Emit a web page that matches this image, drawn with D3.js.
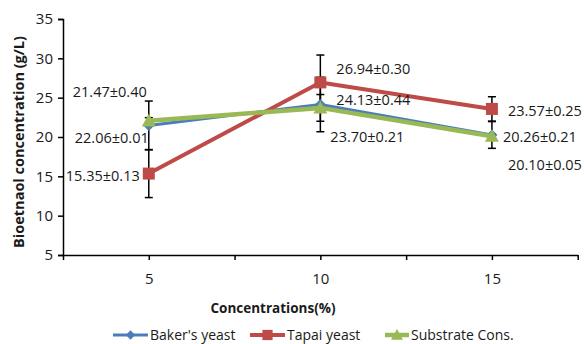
<!DOCTYPE html>
<html>
<head>
<meta charset="utf-8">
<script src="https://cdn.jsdelivr.net/npm/d3@7"></script>
<style>
  body { margin: 0; background: #fff; }
  text { font-family: "Open Sans", "Noto Sans", sans-serif; fill: #1a1a1a; }
</style>
</head>
<body>
<div id="chart"></div>
<script>
// data
var concentrations = [5, 10, 15];
var bakersYeast = [21.47, 24.13, 20.26];
var tapaiYeast = [15.35, 26.94, 23.57];
var substrateCons = [22.06, 23.70, 20.10];
var bakersErr = [3.1, 3.46, 1.7];
var tapaiErr = [3.05, 3.48, 1.55];
var substrateErr = [0.4, 1.7, 0.3];
var bakersLabels = ["21.47±0.40", "24.13±0.44", "20.26±0.21"];
var tapaiLabels = ["15.35±0.13", "26.94±0.30", "23.57±0.25"];
var substrateLabels = ["22.06±0.01", "23.70±0.21", "20.10±0.05"];
var yTicks = [5, 10, 15, 20, 25, 30, 35];
var xTickMarks = [2.5, 5, 7.5, 10, 12.5, 15, 17.5];

var W = 584, H = 344;
var svg = d3.select("#chart").append("svg").attr("width", W).attr("height", H);

var x = d3.scaleLinear().domain([2.5, 17.5]).range([63, 577.7]);
var y = d3.scaleLinear().domain([5, 35]).range([255, 19]);

// label offsets from the data point (layout only)
var series = [
  { name: "Baker's yeast", vals: bakersYeast, err: bakersErr, labels: bakersLabels,
    color: "#4a7ebb", width: 3, marker: "diamond",
    off: [[-76, -28], [16, 0], [11, 7]] },
  { name: "Tapai yeast", vals: tapaiYeast, err: tapaiErr, labels: tapaiLabels,
    color: "#be4b48", width: 4, marker: "square",
    off: [[-83, 7], [16, -8], [16, 7]] },
  { name: "Substrate Cons.", vals: substrateCons, err: substrateErr, labels: substrateLabels,
    color: "#98b954", width: 4.5, marker: "triangle",
    off: [[-74, 22], [10, 34], [16, 34]] }
];

// axes
var yAxis = d3.axisLeft(y).tickValues(yTicks).tickSize(5).tickPadding(5);
var gy = svg.append("g").attr("transform", "translate(63,0)").call(yAxis);
gy.select(".domain").attr("stroke", "#000").attr("stroke-width", 1.5);
gy.selectAll(".tick line").attr("stroke", "#000").attr("stroke-width", 1.5);
gy.selectAll(".tick text").style("font-size", "15px").attr("fill", "#1a1a1a");

var xAxis = d3.axisBottom(x).tickValues(xTickMarks).tickSize(5).tickSizeOuter(0)
  .tickFormat(function(d) { return concentrations.indexOf(d) >= 0 ? d : ""; })
  .tickPadding(13);
var gx = svg.append("g").attr("transform", "translate(0,255)").call(xAxis);
gx.select(".domain").attr("stroke", "#000").attr("stroke-width", 1.5);
gx.selectAll(".tick line").attr("stroke", "#000").attr("stroke-width", 1.5);
gx.selectAll(".tick text").style("font-size", "15px").attr("fill", "#1a1a1a");

// axis titles
svg.append("text")
  .attr("transform", "translate(24,142) rotate(-90)")
  .attr("text-anchor", "middle")
  .style("font-size", "14.5px").style("font-weight", "bold")
  .text("Bioetnaol concentration (g/L)");
svg.append("text")
  .attr("x", 273).attr("y", 313)
  .attr("text-anchor", "middle")
  .style("font-size", "13.5px").style("font-weight", "bold")
  .text("Concentrations(%)");

// error bars (behind lines and markers)
var eb = svg.append("g");
series.forEach(function(s) {
  s.vals.forEach(function(v, i) {
    var cx = x(concentrations[i]);
    var y1 = y(v + s.err[i]), y2 = y(v - s.err[i]);
    eb.append("line").attr("x1", cx).attr("x2", cx).attr("y1", y1).attr("y2", y2)
      .attr("stroke", "#000").attr("stroke-width", 1.5);
    [y1, y2].forEach(function(yy) {
      eb.append("line").attr("x1", cx - 4).attr("x2", cx + 4).attr("y1", yy).attr("y2", yy)
        .attr("stroke", "#000").attr("stroke-width", 1.5);
    });
  });
});

var line = d3.line()
  .x(function(d, i) { return x(concentrations[i]); })
  .y(function(d) { return y(d); });

function drawMarker(g, type, cx, cy, color, scale) {
  scale = scale || 1;
  if (type === "square") {
    var h = 6 * scale;
    g.append("rect").attr("x", cx - h).attr("y", cy - h).attr("width", 2 * h).attr("height", 2 * h)
      .attr("fill", color);
  } else if (type === "diamond") {
    var d = 5.5 * scale;
    g.append("path").attr("d", "M" + cx + "," + (cy - d) + "L" + (cx + d) + "," + cy +
      "L" + cx + "," + (cy + d) + "L" + (cx - d) + "," + cy + "Z").attr("fill", color);
  } else {
    var t = 7 * scale;
    g.append("path").attr("d", "M" + cx + "," + (cy - t) + "L" + (cx + t) + "," + (cy + t * 0.8) +
      "L" + (cx - t) + "," + (cy + t * 0.8) + "Z").attr("fill", color);
  }
}

series.forEach(function(s) {
  svg.append("path").datum(s.vals).attr("d", line)
    .attr("fill", "none").attr("stroke", s.color).attr("stroke-width", s.width)
    .attr("stroke-linejoin", "round");
  var mg = svg.append("g");
  s.vals.forEach(function(v, i) {
    drawMarker(mg, s.marker, x(concentrations[i]), y(v), s.color);
  });
});

// data labels
series.forEach(function(s) {
  s.vals.forEach(function(v, i) {
    svg.append("text")
      .attr("x", x(concentrations[i]) + s.off[i][0])
      .attr("y", y(v) + s.off[i][1])
      .style("font-size", "14.5px")
      .text(s.labels[i]);
  });
});

// legend
var legendX = [113, 250, 385];
var legendY = 335;
series.forEach(function(s, i) {
  var lx = legendX[i];
  var lw = i === 2 ? 24 : 35;
  svg.append("line").attr("x1", lx).attr("x2", lx + lw).attr("y1", legendY).attr("y2", legendY)
    .attr("stroke", s.color).attr("stroke-width", s.width);
  drawMarker(svg, s.marker, lx + lw / 2, legendY, s.color, 0.85);
  svg.append("text").attr("x", lx + lw + 2).attr("y", legendY + 5)
    .style("font-size", "14px").text(s.name);
});
</script>
</body>
</html>
